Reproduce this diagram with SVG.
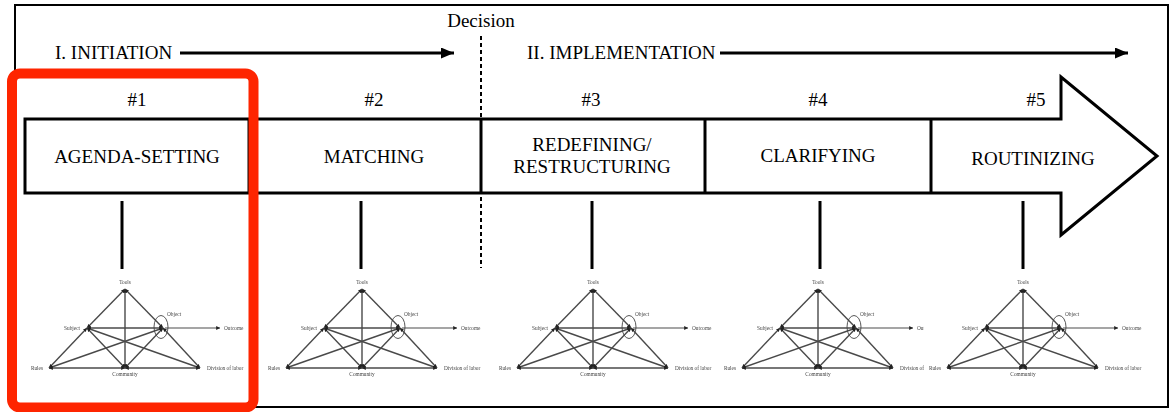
<svg xmlns="http://www.w3.org/2000/svg" xmlns:xlink="http://www.w3.org/1999/xlink" width="1171" height="412" viewBox="0 0 1171 412">
  <style>
    .lbl { font-family: "Liberation Serif", "Times New Roman", serif; fill: #000; }
    .big { font-size: 19px; }
    .mid { text-anchor: middle; }
    .stroke { fill: none; stroke: #000; stroke-width: 3; }
    .edge { stroke: #4a4a4a; stroke-width: 1.4; marker-start: url(#tip); marker-end: url(#tip); }
    .tiny { font-family: "Liberation Serif", "Times New Roman", serif; font-size: 5.3px; fill: #444; }
  </style>
  <defs>
    <marker id="head" viewBox="0 0 13 11" refX="13" refY="5.5" markerWidth="13" markerHeight="11" markerUnits="userSpaceOnUse" orient="auto">
      <path d="M0,0 L13,5.5 L0,11 z" fill="#000"/>
    </marker>
    <marker id="tip" viewBox="0 0 6 6" refX="6" refY="3" markerWidth="3.8" markerHeight="3.8" markerUnits="userSpaceOnUse" orient="auto-start-reverse">
      <path d="M0,0 L6,3 L0,6 z" fill="#222"/>
    </marker>
    <filter id="soft" x="-10%" y="-10%" width="120%" height="120%">
      <feGaussianBlur stdDeviation="0.35"/>
    </filter>
    <clipPath id="cut4">
      <rect x="700" y="270" width="224" height="120"/>
    </clipPath>
    <!-- activity system triangle, origin at the Tools vertex -->
    <g id="activity">
      <line class="edge" x1="0" y1="0" x2="-38" y2="39"/>
      <line class="edge" x1="0" y1="0" x2="38" y2="39"/>
      <line class="edge" x1="0" y1="0" x2="0" y2="79"/>
      <line class="edge" x1="-38" y1="39" x2="38" y2="39"/>
      <line class="edge" x1="-38" y1="39" x2="-76" y2="79"/>
      <line class="edge" x1="-38" y1="39" x2="0" y2="79"/>
      <line class="edge" x1="-38" y1="39" x2="75" y2="79"/>
      <line class="edge" x1="38" y1="39" x2="-76" y2="79"/>
      <line class="edge" x1="38" y1="39" x2="0" y2="79"/>
      <line class="edge" x1="38" y1="39" x2="75" y2="79"/>
      <line class="edge" x1="-76" y1="79" x2="0" y2="79"/>
      <line class="edge" x1="0" y1="79" x2="75" y2="79"/>
      <line x1="40" y1="39" x2="95" y2="39" stroke="#4a4a4a" stroke-width="1.2" marker-end="url(#tip)"/>
      <ellipse cx="36" cy="38" rx="7" ry="11.5" fill="none" stroke="#444" stroke-width="0.9"/>
      <text class="tiny" x="0" y="-5" text-anchor="middle">Tools</text>
      <text class="tiny" x="-45" y="40.5" text-anchor="end">Subject</text>
      <text class="tiny" x="42" y="27">Object</text>
      <text class="tiny" x="99" y="40.5">Outcome</text>
      <text class="tiny" x="-82" y="81" text-anchor="end">Rules</text>
      <text class="tiny" x="0" y="87" text-anchor="middle">Community</text>
      <text class="tiny" x="82" y="81">Division of labor</text>
    </g>
  </defs>

  <rect width="1171" height="412" fill="#fff"/>
  <!-- outer frame -->
  <rect x="15" y="5" width="1153" height="402" fill="none" stroke="#000" stroke-width="2"/>

  <!-- phase headings -->
  <g id="phases">
    <text class="lbl big mid" x="481" y="27">Decision</text>
    <text class="lbl big" x="55" y="59">I. INITIATION</text>
    <text class="lbl big" x="527" y="59">II. IMPLEMENTATION</text>
  </g>

  <g id="connectors">
    <line x1="180" y1="53" x2="454" y2="53" stroke="#000" stroke-width="3" marker-end="url(#head)"/>
    <line x1="720" y1="53" x2="1128" y2="53" stroke="#000" stroke-width="3" marker-end="url(#head)"/>
    <line x1="481" y1="36" x2="481" y2="268" stroke="#000" stroke-width="2" stroke-dasharray="4 3"/>
    <line x1="122" y1="201" x2="122" y2="269" stroke="#000" stroke-width="3"/>
    <line x1="361" y1="201" x2="361" y2="269" stroke="#000" stroke-width="3"/>
    <line x1="592" y1="201" x2="592" y2="269" stroke="#000" stroke-width="3"/>
    <line x1="820" y1="201" x2="820" y2="269" stroke="#000" stroke-width="3"/>
    <line x1="1023" y1="201" x2="1023" y2="269" stroke="#000" stroke-width="3"/>
  </g>

  <!-- process arrow with its five stages -->
  <g id="process-arrow">
    <path class="stroke" d="M25,119 H1061 V77 L1157,156 L1061,235 V193 H25 Z"/>
    <line x1="249" y1="119" x2="249" y2="193" stroke="#000" stroke-width="3"/>
    <line x1="481" y1="119" x2="481" y2="193" stroke="#000" stroke-width="3"/>
    <line x1="705" y1="119" x2="705" y2="193" stroke="#000" stroke-width="3"/>
    <line x1="931" y1="119" x2="931" y2="193" stroke="#000" stroke-width="3"/>
  </g>

  <g id="stage1">
    <text class="lbl big mid" x="137" y="106">#1</text>
    <text class="lbl big mid" x="137" y="163">AGENDA-SETTING</text>
    <use href="#activity" x="125" y="289" filter="url(#soft)"/>
  </g>
  <g id="stage2">
    <text class="lbl big mid" x="374" y="106">#2</text>
    <text class="lbl big mid" x="374" y="163">MATCHING</text>
    <use href="#activity" x="362" y="289" filter="url(#soft)"/>
  </g>
  <g id="stage3">
    <text class="lbl big mid" x="591" y="106">#3</text>
    <text class="lbl big mid" x="592" y="151">REDEFINING/</text>
    <text class="lbl big mid" x="592" y="173">RESTRUCTURING</text>
    <use href="#activity" x="593" y="289" filter="url(#soft)"/>
  </g>
  <g id="stage4">
    <text class="lbl big mid" x="818" y="106">#4</text>
    <text class="lbl big mid" x="818" y="162">CLARIFYING</text>
    <g clip-path="url(#cut4)">
      <use href="#activity" x="818" y="289" filter="url(#soft)"/>
    </g>
  </g>
  <g id="stage5">
    <text class="lbl big mid" x="1036" y="106">#5</text>
    <text class="lbl big mid" x="1033" y="165">ROUTINIZING</text>
    <use href="#activity" x="1023" y="289" filter="url(#soft)"/>
  </g>

  <!-- highlight around the first stage -->
  <rect id="highlight" x="12" y="73.5" width="241.5" height="334" rx="8" fill="none" stroke="#fe2500" stroke-width="10"/>
</svg>
